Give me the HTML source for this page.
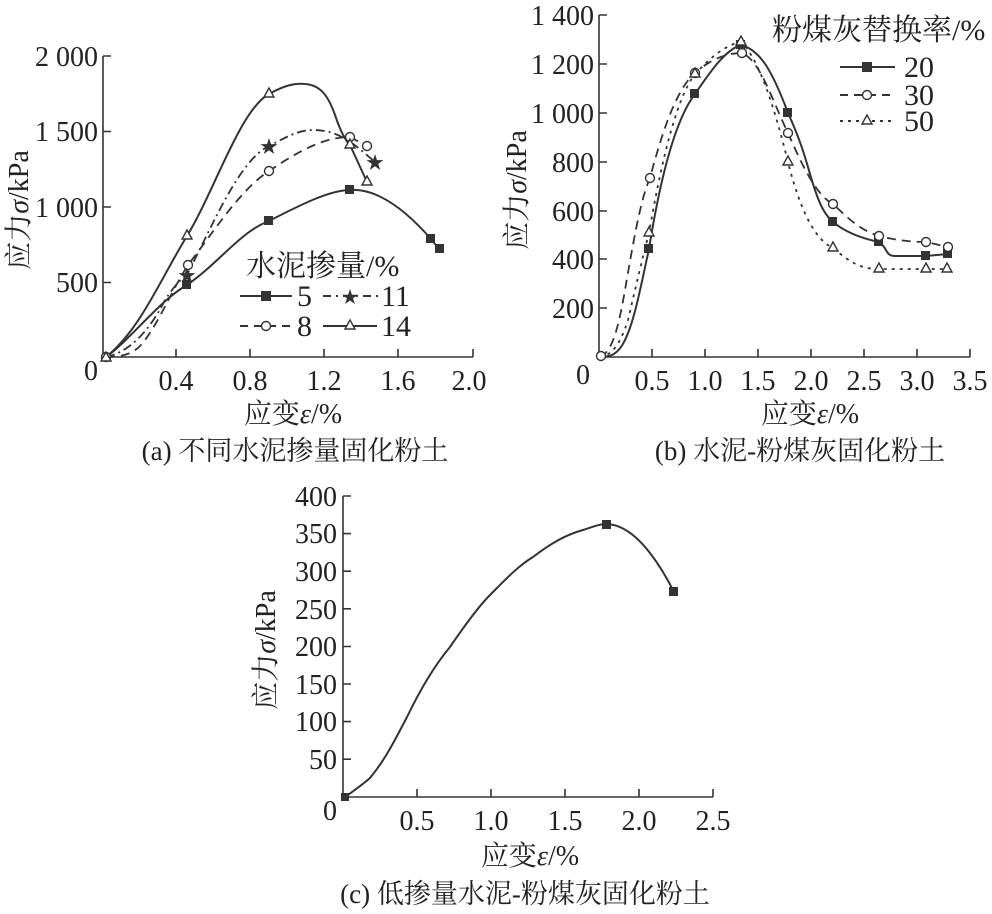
<!DOCTYPE html>
<html><head><meta charset="utf-8"><style>
html,body{margin:0;padding:0;background:#fff;}
svg{display:block;}
text{font-family:"Liberation Serif","Noto Serif CJK SC",serif;fill:#222;}
.t{font-size:28px;}
.l{font-size:30px;}
.c{font-size:27px;}
</style></head><body>
<svg width="992" height="914" viewBox="0 0 992 914" xmlns="http://www.w3.org/2000/svg">
<g stroke="#333" stroke-width="1.6" fill="none">
<path d="M103,56 V357 H473"/>
<path d="M103,56 h8 M103,131.5 h8 M103,207 h8 M103,282.5 h8"/>
<path d="M176,357 v-8 M250,357 v-8 M324,357 v-8 M398,357 v-8 M473,357 v-8"/>
<path d="M106,357 C130,340 160,300 187,285 C220,262 240,232 269,221 C300,205 330,190 350,190 C380,188 410,215 431,239 L439,249" stroke-width="2"/>
<path d="M106,357 C140,330 160,280 187,236 C215,190 240,110 269,94 C285,85 295,83 305,84 C320,85 328,95 335,115 C340,130 345,140 350,145 L367,182" stroke-width="2"/>
<path d="M106,357 C120,357 135,355 145,340 C160,320 172,290 188,265 C215,230 240,190 269,171 C300,150 325,137 350,137 L367,146" stroke-dasharray="9,6" stroke-width="1.8"/>
<path d="M106,357 C130,352 150,330 165,300 C175,285 180,280 187,275 C215,220 240,160 269,146 C290,135 300,130 313,130 C340,130 355,145 375,162" stroke-dasharray="9,4,2,4" stroke-width="1.8"/>
<path d="M599,15 V357 H970"/>
<path d="M599,15 h8 M599,64 h8 M599,113 h8 M599,162 h8 M599,211 h8 M599,259 h8 M599,308 h8"/>
<path d="M652,357 v-8 M705,357 v-8 M758,357 v-8 M811,357 v-8 M864,357 v-8 M917,357 v-8 M970,357 v-8"/>
<path d="M600,357 C610,357 618,355 625,340 C635,320 642,280 649,249 C660,180 675,120 695,94 C710,72 725,50 741,45 C760,50 772,70 788,113 C805,150 808,170 815,190 C820,205 825,215 833,222 C845,232 860,238 879,242 C888,248 885,256 895,256 L926,256 L948,254" stroke-width="2"/>
<path d="M600,357 C612,352 618,330 625,290 C632,250 640,200 650,178 C660,140 675,90 695,73 C710,60 725,53 742,53 C760,60 772,100 788,133 C800,160 815,195 833,204 C850,220 860,230 879,236 C895,240 910,242 926,242 L948,247" stroke-dasharray="9,6" stroke-width="1.8"/>
<path d="M600,357 C612,355 620,345 628,320 C635,290 642,260 649,233 C660,170 675,100 695,74 C710,58 725,45 741,42 C760,60 775,110 788,162 C800,210 815,240 833,248 C850,262 860,269 879,269 L947,269" stroke-dasharray="3,5" stroke-width="1.8"/>
<path d="M343,496 V797 H713"/>
<path d="M343,496 h8 M343,533.6 h8 M343,571.2 h8 M343,608.8 h8 M343,646.5 h8 M343,684 h8 M343,721.6 h8 M343,759.2 h8"/>
<path d="M417,797 v-8 M491,797 v-8 M565,797 v-8 M639,797 v-8 M713,797 v-8"/>
<path d="M345,797 C355,790 362,785 370,778 C385,760 395,740 407,717 C420,690 435,665 450,647 C465,625 478,607 490,595 C505,580 518,566 533,557 C550,544 565,535 583,530 C595,526 600,524 607,524 C625,525 640,540 650,553 C660,566 667,578 674,592" stroke-width="2"/>
</g>
<g fill="#333">
<rect x="182" y="280" width="9" height="9"/><rect x="264" y="216" width="9" height="9"/><rect x="345" y="185" width="9" height="9"/><rect x="426" y="234" width="9" height="9"/><rect x="435" y="244" width="9" height="9"/>
<rect x="644" y="244" width="9" height="9"/><rect x="690" y="89" width="9" height="9"/><rect x="736" y="40" width="9" height="9"/><rect x="783" y="108" width="9" height="9"/><rect x="828" y="217" width="9" height="9"/><rect x="874" y="237" width="9" height="9"/><rect x="921" y="251" width="9" height="9"/><rect x="943" y="249" width="9" height="9"/>
<rect x="341" y="793" width="8" height="8"/><rect x="602" y="520" width="9" height="9"/><rect x="669" y="587" width="9" height="9"/>
<text x="269" y="153" font-size="18" text-anchor="middle" style="fill:#333">★</text>
<text x="187" y="282" font-size="18" text-anchor="middle" style="fill:#333">★</text>
<text x="375" y="169" font-size="18" text-anchor="middle" style="fill:#333">★</text>
</g>
<g fill="#fff" stroke="#333" stroke-width="1.4">
<circle cx="188" cy="265" r="4.5"/><circle cx="269" cy="171" r="4.5"/><circle cx="350" cy="137" r="4.5"/><circle cx="367" cy="146" r="4.5"/><circle cx="106" cy="357" r="4.5"/>
<path d="M187,230 l5,9 h-10z M269,88 l5,9 h-10z M350,139 l5,9 h-10z M367,176 l5,9 h-10z M106,352 l5,9 h-10z"/>
<circle cx="650" cy="178" r="4.5"/><circle cx="695" cy="73" r="4.5"/><circle cx="742" cy="53" r="4.5"/><circle cx="788" cy="133" r="4.5"/><circle cx="833" cy="204" r="4.5"/><circle cx="879" cy="236" r="4.5"/><circle cx="926" cy="242" r="4.5"/><circle cx="948" cy="247" r="4.5"/><circle cx="601" cy="356" r="4.5"/>
<path d="M649,227 l5,9 h-10z M695,68 l5,9 h-10z M741,36 l5,9 h-10z M788,156 l5,9 h-10z M833,242 l5,9 h-10z M879,263 l5,9 h-10z M926,263 l5,9 h-10z M947,263 l5,9 h-10z"/>
</g>
<text x="246" y="276" class="l">水泥掺量/%</text>
<g stroke="#333" stroke-width="2" fill="none">
<path d="M240,296 H292"/><path d="M323,296 H380" stroke-dasharray="8,5,2,5"/>
<path d="M240,326 H292" stroke-dasharray="8,6"/><path d="M323,326 H377"/>
</g>
<rect x="261" y="291" width="10" height="10" fill="#333"/>
<text x="350" y="303" font-size="17" text-anchor="middle" style="fill:#333">★</text>
<circle cx="266" cy="326" r="4.5" fill="#fff" stroke="#333" stroke-width="1.4"/>
<path d="M350,320 l5,9 h-10z" fill="#fff" stroke="#333" stroke-width="1.4"/>
<text x="297" y="306" class="l">5</text><text x="381" y="306" class="l">11</text>
<text x="297" y="336" class="l">8</text><text x="381" y="336" class="l">14</text>
<g class="t" text-anchor="end">
<text x="98" y="66">2 000</text><text x="98" y="141">1 500</text><text x="98" y="217">1 000</text><text x="98" y="292">500</text><text x="98" y="380">0</text>
</g>
<g class="t" text-anchor="middle">
<text x="176" y="390">0.4</text><text x="250" y="390">0.8</text><text x="324" y="390">1.2</text><text x="398" y="390">1.6</text><text x="469" y="390">2.0</text>
</g>
<text transform="translate(28,210) rotate(-90)" class="t" text-anchor="middle">应力<tspan font-style="italic">σ</tspan>/kPa</text>
<text x="293" y="423" class="t" text-anchor="middle">应变<tspan font-style="italic">ε</tspan>/%</text>
<text x="295" y="460" class="c" text-anchor="middle">(a) 不同水泥掺量固化粉土</text>
<g class="t" text-anchor="end">
<text x="594" y="25">1 400</text><text x="594" y="74">1 200</text><text x="594" y="123">1 000</text><text x="594" y="172">800</text><text x="594" y="221">600</text><text x="594" y="269">400</text><text x="594" y="318">200</text><text x="590" y="384">0</text>
</g>
<g class="t" text-anchor="middle">
<text x="652" y="390">0.5</text><text x="705" y="390">1.0</text><text x="758" y="390">1.5</text><text x="811" y="390">2.0</text><text x="864" y="390">2.5</text><text x="917" y="390">3.0</text><text x="970" y="390">3.5</text>
</g>
<text transform="translate(526,190) rotate(-90)" class="t" text-anchor="middle">应力<tspan font-style="italic">σ</tspan>/kPa</text>
<text x="810" y="423" class="t" text-anchor="middle">应变<tspan font-style="italic">ε</tspan>/%</text>
<text x="800" y="460" class="c" text-anchor="middle">(b) 水泥-粉煤灰固化粉土</text>
<text x="772" y="40" class="l">粉煤灰替换率/%</text>
<g stroke="#333" stroke-width="2" fill="none">
<path d="M840,67 H895"/><path d="M840,95 H890" stroke-dasharray="8,6"/><path d="M840,121 H893" stroke-dasharray="3,5"/>
</g>
<rect x="862" y="62" width="10" height="10" fill="#333"/>
<circle cx="867" cy="95" r="4.5" fill="#fff" stroke="#333" stroke-width="1.4"/>
<path d="M867,115 l5,9 h-10z" fill="#fff" stroke="#333" stroke-width="1.4"/>
<text x="904" y="77" class="l">20</text><text x="904" y="105" class="l">30</text><text x="904" y="131" class="l">50</text>
<g class="t" text-anchor="end">
<text x="337" y="506">400</text><text x="337" y="543">350</text><text x="337" y="581">300</text><text x="337" y="619">250</text><text x="337" y="656">200</text><text x="337" y="694">150</text><text x="337" y="731">100</text><text x="337" y="769">50</text><text x="337" y="820">0</text>
</g>
<g class="t" text-anchor="middle">
<text x="417" y="830">0.5</text><text x="491" y="830">1.0</text><text x="565" y="830">1.5</text><text x="639" y="830">2.0</text><text x="713" y="830">2.5</text>
</g>
<text transform="translate(275,650) rotate(-90)" class="t" text-anchor="middle">应力<tspan font-style="italic">σ</tspan>/kPa</text>
<text x="530" y="865" class="t" text-anchor="middle">应变<tspan font-style="italic">ε</tspan>/%</text>
<text x="525" y="903" class="c" text-anchor="middle">(c) 低掺量水泥-粉煤灰固化粉土</text>
</svg>
</body></html>
